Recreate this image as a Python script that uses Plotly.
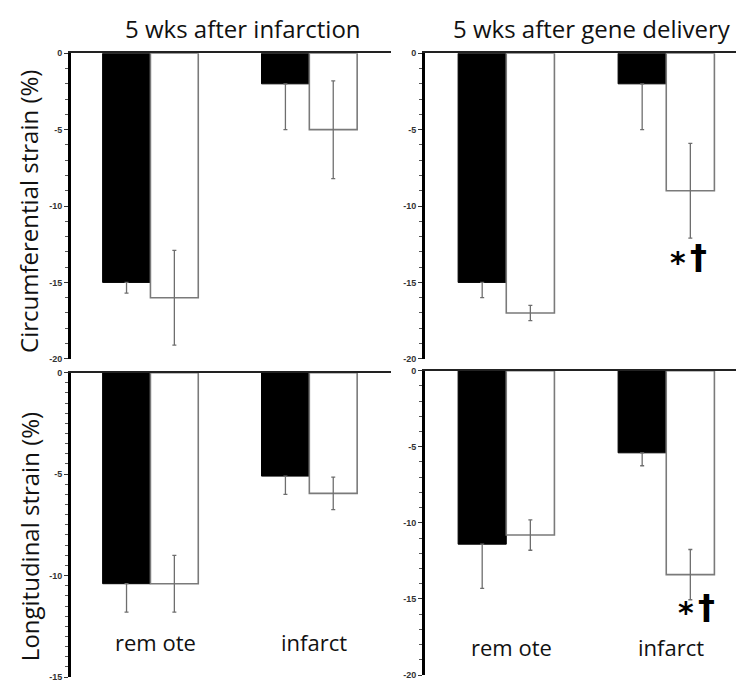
import plotly.graph_objects as go

W, H = 736, 688

categories = ["remote", "infarct"]
category_labels = ["rem ote", "infarct"]
panel_titles = ["5 wks after infarction", "5 wks after gene delivery"]
row_titles = ["Circumferential strain (%)", "Longitudinal strain (%)"]
sig_star = "*"
sig_dagger = "†"

# top-left: circumferential, 5 wks after infarction
circ_inf_black = [-15.0, -2.0]
circ_inf_black_err = [0.7, 3.0]
circ_inf_white = [-16.0, -5.0]
circ_inf_white_err = [3.1, 3.2]

# top-right: circumferential, 5 wks after gene delivery
circ_gene_black = [-15.0, -2.0]
circ_gene_black_err = [1.0, 3.0]
circ_gene_white = [-17.0, -9.0]
circ_gene_white_err = [0.5, 3.1]

# bottom-left: longitudinal, 5 wks after infarction
long_inf_black = [-10.4, -5.1]
long_inf_black_err = [1.4, 0.9]
long_inf_white = [-10.4, -5.95]
long_inf_white_err = [1.4, 0.8]

# bottom-right: longitudinal, 5 wks after gene delivery
long_gene_black = [-11.4, -5.4]
long_gene_black_err = [2.9, 0.85]
long_gene_white = [-10.8, -13.4]
long_gene_white_err = [1.0, 1.65]

ytick_top = [0, -5, -10, -15, -20]
ytick_top_text = ["0", "-5", "-10", "-15", "-20"]
ytick_bl = [0, -5, -10, -15]
ytick_bl_text = ["0", "-5", "-10", "-15"]

def px_x(p):
    return p / W

def px_y(p):
    return 1 - p / H

panels = [
    ("", circ_inf_black, circ_inf_black_err, circ_inf_white, circ_inf_white_err,
     (71, 391), (49, 359), [-20, 0], ytick_top, ytick_top_text, 1, [-0.5, 1.514]),
    ("2", circ_gene_black, circ_gene_black_err, circ_gene_white, circ_gene_white_err,
     (425, 736), (49, 359), [-20, 0], ytick_top, ytick_top_text, 1, [-0.508, 1.436]),
    ("3", long_inf_black, long_inf_black_err, long_inf_white, long_inf_white_err,
     (71, 391), (373, 682), [-15, 0], ytick_bl, ytick_bl_text, 0.5, [-0.5, 1.514]),
    ("4", long_gene_black, long_gene_black_err, long_gene_white, long_gene_white_err,
     (425, 736), (371, 680), [-20, 0], ytick_top, ytick_top_text, 1, [-0.508, 1.436]),
]

fig = go.Figure()
layout_axes = {}
err_color = "#6e6e6e"
for suf, bv, be, wv, we, xd, yd, yr, yt, ytt, mdt, xr in panels:
    xa = "x" + suf
    ya = "y" + suf
    fig.add_trace(go.Bar(
        x=categories, y=bv, xaxis=xa, yaxis=ya,
        marker=dict(color="black", line=dict(color="black", width=1)),
        error_y=dict(type="data", symmetric=False, array=[0, 0], arrayminus=be,
                     color=err_color, thickness=1.3, width=2),
        showlegend=False,
    ))
    fig.add_trace(go.Bar(
        x=categories, y=wv, xaxis=xa, yaxis=ya,
        marker=dict(color="white", line=dict(color="#7a7a7a", width=1.6)),
        error_y=dict(type="data", symmetric=True, array=we,
                     color=err_color, thickness=1.3, width=2),
        showlegend=False,
    ))
    layout_axes["xaxis" + suf] = dict(
        domain=[px_x(xd[0]), px_x(xd[1])], anchor=ya, side="top",
        type="category", range=xr, showline=True, linecolor="#222", linewidth=2,
        showticklabels=False, ticks="", showgrid=False, zeroline=False,
        fixedrange=True,
    )
    layout_axes["yaxis" + suf] = dict(
        domain=[px_y(yd[1]), px_y(yd[0])], anchor=xa, range=yr,
        showline=True, linecolor="black", linewidth=2.8, mirror=False,
        ticks="outside", ticklen=4, tickwidth=1.2, tickcolor="#333",
        tickvals=yt, ticktext=["<b>" + t + "</b>" for t in ytt],
        tickfont=dict(family="Liberation Sans", size=9, color="#333"),
        minor=dict(dtick=mdt, ticks="outside", ticklen=3, tickwidth=1, tickcolor="#555"),
        showgrid=False, zeroline=False, fixedrange=True,
    )

annotations = []
title_font = dict(family="Open Sans", size=24, color="#111")
annotations.append(dict(text=panel_titles[0], x=px_x(243), y=px_y(24), xref="paper", yref="paper",
                        showarrow=False, font=title_font, xanchor="center", yanchor="middle"))
annotations.append(dict(text=panel_titles[1], x=px_x(592), y=px_y(24), xref="paper", yref="paper",
                        showarrow=False, font=title_font, xanchor="center", yanchor="middle"))
annotations.append(dict(text=row_titles[0], x=px_x(29), y=px_y(210), xref="paper", yref="paper",
                        showarrow=False, font=title_font, textangle=-90, xanchor="center", yanchor="middle"))
annotations.append(dict(text=row_titles[1], x=px_x(29), y=px_y(540), xref="paper", yref="paper",
                        showarrow=False, font=title_font, textangle=-90, xanchor="center", yanchor="middle"))

cat_font = dict(family="Open Sans", size=22, color="#111")
for suf, ypx in (("3", 646), ("4", 651)):
    for cat, lab in zip(categories, category_labels):
        annotations.append(dict(text=lab, x=cat, xref="x" + suf, y=px_y(ypx), yref="paper",
                                showarrow=False, font=cat_font, xshift=5,
                                xanchor="center", yanchor="middle"))

star_font = dict(family="DejaVu Sans", size=30, color="black")
dag_font = dict(family="DejaVu Sans", size=34, color="black")
for sx, dx, ypx in ((678, 698, 256), (686, 706, 611)):
    annotations.append(dict(text="<b>" + sig_star + "</b>", x=px_x(sx), y=px_y(ypx + 5), xref="paper",
                            yref="paper", showarrow=False, font=star_font,
                            xanchor="center", yanchor="middle"))
    annotations.append(dict(text="<b>" + sig_dagger + "</b>", x=px_x(dx), y=px_y(ypx), xref="paper",
                            yref="paper", showarrow=False, font=dag_font,
                            xanchor="center", yanchor="middle"))

fig.update_layout(
    width=W, height=H,
    margin=dict(l=0, r=0, t=0, b=0),
    paper_bgcolor="white", plot_bgcolor="white",
    barmode="group", bargap=0.398, bargroupgap=0,
    annotations=annotations,
    **layout_axes,
)

fig.write_html("out.html",
               config={"displayModeBar": False},
               post_script="document.body.style.margin='0px';document.body.style.padding='0px';")
